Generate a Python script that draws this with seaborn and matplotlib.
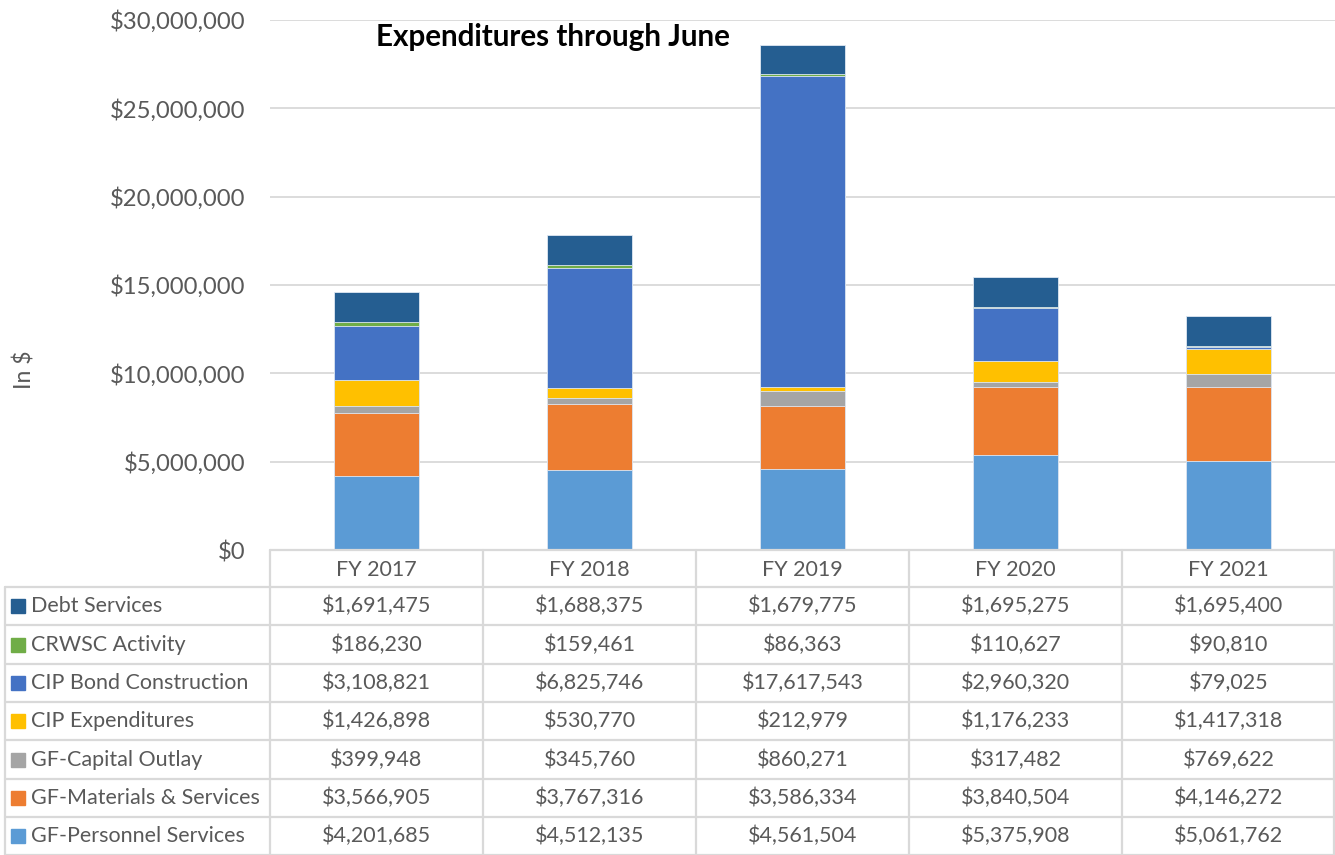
import matplotlib
matplotlib.use("Agg")
import matplotlib.pyplot as plt
import seaborn as sns
import pandas as pd
import numpy as np
from matplotlib.ticker import FuncFormatter

years = ["FY 2017", "FY 2018", "FY 2019", "FY 2020", "FY 2021"]
# stacking order bottom -> top
series_names = ["GF-Personnel Services", "GF-Materials & Services", "GF-Capital Outlay",
                "CIP Expenditures", "CIP Bond Construction", "CRWSC Activity", "Debt Services"]
personnel = [4201685, 4512135, 4561504, 5375908, 5061762]
materials = [3566905, 3767316, 3586334, 3840504, 4146272]
capital_outlay = [399948, 345760, 860271, 317482, 769622]
cip_exp = [1426898, 530770, 212979, 1176233, 1417318]
cip_bond = [3108821, 6825746, 17617543, 2960320, 79025]
crwsc = [186230, 159461, 86363, 110627, 90810]
debt = [1691475, 1688375, 1679775, 1695275, 1695400]
colors = ["#5B9BD5", "#ED7D31", "#A5A5A5", "#FFC000", "#4472C4", "#70AD47", "#255E91"]
title = "Expenditures through June"
ylabel = "In $"

values = [personnel, materials, capital_outlay, cip_exp, cip_bond, crwsc, debt]
df = pd.DataFrame({n: v for n, v in zip(series_names, values)}, index=years)
cum = df.cumsum(axis=1)

sns.set_theme(style="white")
plt.rcParams["font.family"] = ["Lato", "DejaVu Sans"]
GRAY = "#595959"

W, H = 1335, 855
fig = plt.figure(figsize=(W / 100, H / 100), dpi=100)
x0, x1, ytop, ybot = 270, 1335, 20, 550
ax = fig.add_axes([x0 / W, 1 - ybot / H, (x1 - x0) / W, (ybot - ytop) / H])

for name, col in reversed(list(zip(series_names, colors))):
    d = pd.DataFrame({"year": years, "val": cum[name].values})
    sns.barplot(data=d, x="year", y="val", order=years, color=col, width=0.4,
                saturation=1, ax=ax, edgecolor="#dfe8f3", linewidth=0.6, zorder=3)

ax.set_ylim(0, 30_000_000)
ax.set_xlim(-0.5, 4.5)
ax.set_yticks(np.arange(0, 30_000_001, 5_000_000))
ax.yaxis.set_major_formatter(FuncFormatter(lambda v, p: f"${v:,.0f}"))
ax.tick_params(axis="y", length=0, pad=18, labelsize=17.2, labelcolor=GRAY)
ax.set_xticks([])
ax.set_xlabel("")
ax.set_ylabel("")
ax.grid(axis="y", color="#d9d9d9", linewidth=1.3, zorder=0)
for s in ax.spines.values():
    s.set_visible(False)

fig.text(376 / W, 1 - 37 / H, title, fontsize=21.3, fontweight="bold", color="black",
         ha="left", va="center")
fig.text(25 / W, 1 - 370 / H, ylabel, fontsize=16.5, color=GRAY, rotation=90,
         ha="center", va="center")

# data table
tax = fig.add_axes([0, 0, 1, 1])
tax.set_xlim(0, W)
tax.set_ylim(H, 0)
tax.axis("off")
lc = "#d9d9d9"
lw = 1.6
col_edges = np.linspace(x0, x1, len(years) + 1)
row_edges = [550, 587, 625, 664, 702, 740, 779, 817, 855]
tax.plot([x0, x1], [550, 550], color=lc, lw=lw)
for xe in col_edges:
    tax.plot([xe, xe], [550, 855], color=lc, lw=lw)
for ye in row_edges[1:]:
    tax.plot([5, x1], [ye, ye], color=lc, lw=lw)
tax.plot([5, 5], [587, 855], color=lc, lw=lw)
tax.plot([x1 - 1, x1 - 1], [550, 855], color=lc, lw=lw)
FS = 15.5
for j, yr in enumerate(years):
    cx = (col_edges[j] + col_edges[j + 1]) / 2
    tax.text(cx, (row_edges[0] + row_edges[1]) / 2 + 1, yr, ha="center", va="center",
             fontsize=FS, color=GRAY)
rows = list(zip(series_names, colors, values))[::-1]
for i, (name, col, vals) in enumerate(rows):
    yc = (row_edges[i + 1] + row_edges[i + 2]) / 2
    tax.add_patch(plt.Rectangle((11, yc - 7), 14, 14, color=col))
    tax.text(31, yc, name, ha="left", va="center", fontsize=FS, color=GRAY)
    for j, v in enumerate(vals):
        cx = (col_edges[j] + col_edges[j + 1]) / 2
        tax.text(cx, yc, f"${v:,.0f}", ha="center", va="center", fontsize=FS, color=GRAY)

fig.savefig("out.png", dpi=100)
